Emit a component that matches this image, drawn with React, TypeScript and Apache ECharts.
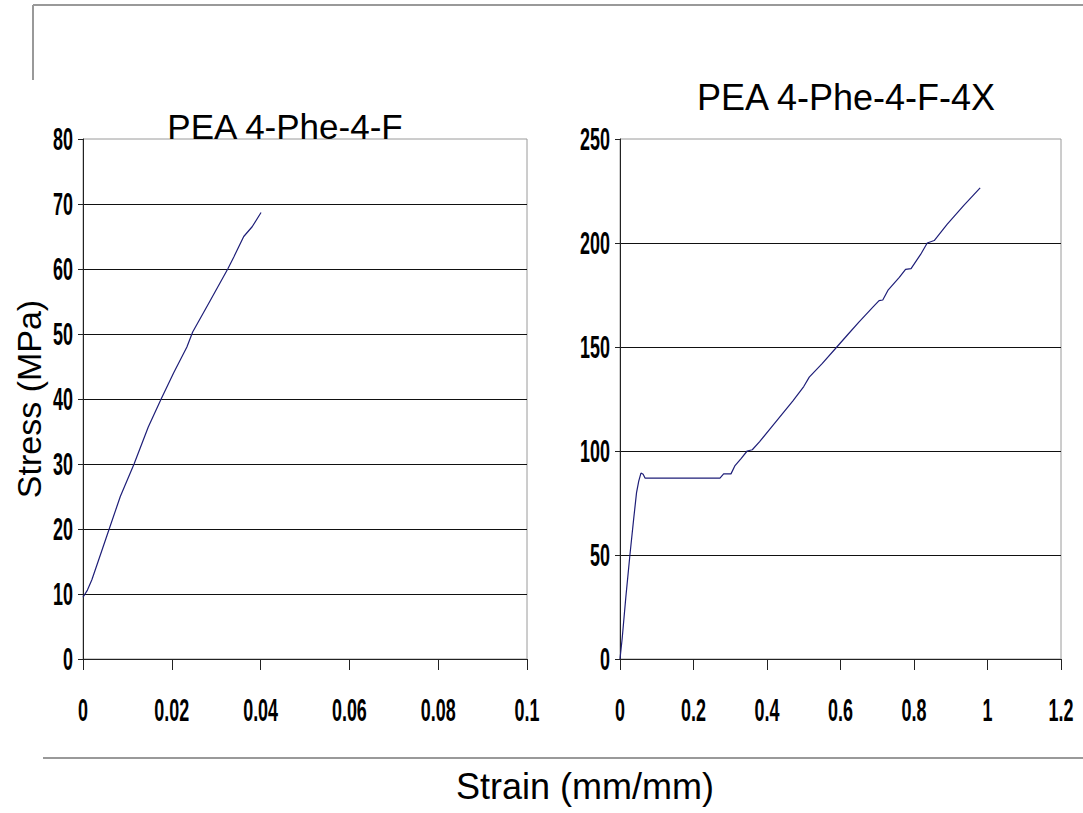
import React, { useEffect, useRef } from "react";
import * as echarts from "echarts";

const leftTitle = "PEA 4-Phe-4-F";
const rightTitle = "PEA 4-Phe-4-F-4X";
const yName = "Stress (MPa)";
const xName = "Strain (mm/mm)";

const leftStrain = [0, 0.001, 0.002, 0.0035, 0.0059, 0.0084, 0.0115, 0.0147, 0.0176, 0.0204, 0.0234, 0.0247, 0.0287, 0.0326, 0.034, 0.0362, 0.0381, 0.0401];
const leftStress = [9.5, 10.6, 12.2, 15.2, 20, 25, 30, 35.7, 40, 44, 48, 50.3, 55.2, 60, 61.9, 65, 66.5, 68.7];

const rightStrain = [0, 0.006, 0.016, 0.027, 0.037, 0.045, 0.051, 0.057, 0.063, 0.068, 0.12, 0.2, 0.272, 0.282, 0.302, 0.313, 0.33, 0.346, 0.36, 0.38, 0.41, 0.44, 0.47, 0.5, 0.515, 0.55, 0.59, 0.62, 0.65, 0.69, 0.705, 0.715, 0.73, 0.76, 0.777, 0.792, 0.818, 0.836, 0.855, 0.89, 0.935, 0.98];
const rightStress = [0, 10, 30, 50, 67, 80, 85.5, 89.4, 88.8, 87, 87, 87, 87, 89, 89, 93, 96.5, 100, 100.6, 104.5, 111, 117.5, 124, 131, 135.5, 142, 150, 156, 162, 169.5, 172.3, 172.6, 177.5, 183.5, 187.3, 187.7, 194.5, 200, 201.2, 209, 218, 226.5];

const leftXTicks = [0, 0.02, 0.04, 0.06, 0.08, 0.1];
const leftXTickLabels = ["0", "0.02", "0.04", "0.06", "0.08", "0.1"];
const leftYTicks = [0, 10, 20, 30, 40, 50, 60, 70, 80];
const rightXTicks = [0, 0.2, 0.4, 0.6, 0.8, 1, 1.2];
const rightXTickLabels = ["0", "0.2", "0.4", "0.6", "0.8", "1", "1.2"];
const rightYTicks = [0, 50, 100, 150, 200, 250];

const textFont = "'Liberation Sans', Arial, sans-serif";
const numStyle = { fontFamily: textFont, fontWeight: "bold", fontSize: 32, fill: "#000" };
const numScale = 0.56;

function xAxis(gridIndex: number, ticks: number[]) {
  return {
    type: "value",
    gridIndex,
    min: ticks[0],
    max: ticks[ticks.length - 1],
    interval: ticks[1] - ticks[0],
    axisLine: { show: true, lineStyle: { color: "#222", width: 1 } },
    axisTick: { show: true, length: 11, lineStyle: { color: "#222" } },
    axisLabel: { show: false },
    splitLine: { show: false },
  };
}

function yAxis(gridIndex: number, ticks: number[], name?: string) {
  return {
    type: "value",
    gridIndex,
    min: ticks[0],
    max: ticks[ticks.length - 1],
    interval: ticks[1] - ticks[0],
    name,
    nameLocation: "middle",
    nameGap: 37,
    nameTextStyle: { fontFamily: textFont, fontSize: 34, color: "#000" },
    axisLine: { show: true, lineStyle: { color: "#222", width: 1 } },
    axisTick: { show: true, length: 5, lineStyle: { color: "#222" } },
    axisLabel: { show: false },
    splitLine: { show: true, showMaxLine: false, showMinLine: false, lineStyle: { color: "#111", width: 1 } },
  };
}

export default function App() {
  const ref = useRef<HTMLDivElement>(null);
  useEffect(() => {
    if (!ref.current) return;
    const chart = echarts.init(ref.current, undefined, { renderer: "svg" });
    const lineColor = "#1e1e78";
    chart.setOption({
      animation: false,
      backgroundColor: "#fff",
      grid: [
        { left: 83, top: 139, width: 444, height: 520, show: true, borderColor: "#9a9a9a", borderWidth: 1, backgroundColor: "transparent", containLabel: false, outerBoundsMode: "none" },
        { left: 620, top: 139, width: 441, height: 520, show: true, borderColor: "#9a9a9a", borderWidth: 1, backgroundColor: "transparent", containLabel: false, outerBoundsMode: "none" },
      ],
      xAxis: [xAxis(0, leftXTicks), xAxis(1, rightXTicks)],
      yAxis: [yAxis(0, leftYTicks, yName), yAxis(1, rightYTicks)],
      series: [
        {
          type: "line",
          xAxisIndex: 0,
          yAxisIndex: 0,
          showSymbol: false,
          data: leftStrain.map((x, i) => [x, leftStress[i]]),
          lineStyle: { color: lineColor, width: 1.2 },
          itemStyle: { color: lineColor },
        },
        {
          type: "line",
          xAxisIndex: 1,
          yAxisIndex: 1,
          showSymbol: false,
          data: rightStrain.map((x, i) => [x, rightStress[i]]),
          lineStyle: { color: lineColor, width: 1.2 },
          itemStyle: { color: lineColor },
        },
      ],
    });

    const labels: any[] = [];
    const addX = (axisIndex: number, ticks: number[], texts: string[]) => {
      ticks.forEach((v, i) => {
        const px = chart.convertToPixel({ xAxisIndex: axisIndex }, v) as number;
        labels.push({
          type: "text",
          x: px,
          y: 710,
          scaleX: numScale,
          style: { ...numStyle, text: texts[i], align: "center", verticalAlign: "middle" },
        });
      });
    };
    const addY = (axisIndex: number, ticks: number[], axisX: number) => {
      ticks.forEach((v) => {
        const py = chart.convertToPixel({ yAxisIndex: axisIndex }, v) as number;
        labels.push({
          type: "text",
          x: axisX - 10,
          y: py,
          scaleX: numScale,
          style: { ...numStyle, text: String(v), align: "right", verticalAlign: "middle" },
        });
      });
    };
    addX(0, leftXTicks, leftXTickLabels);
    addX(1, rightXTicks, rightXTickLabels);
    addY(0, leftYTicks, 83);
    addY(1, rightYTicks, 620);

    chart.setOption({
      graphic: [
        { type: "line", shape: { x1: 33, y1: 5, x2: 1083, y2: 5 }, style: { stroke: "#999", lineWidth: 2 } },
        { type: "line", shape: { x1: 33, y1: 5, x2: 33, y2: 80 }, style: { stroke: "#999", lineWidth: 2 } },
        { type: "line", shape: { x1: 43, y1: 758, x2: 1083, y2: 758 }, style: { stroke: "#999", lineWidth: 2 } },
        {
          type: "text",
          x: 285,
          y: 126,
          style: { text: leftTitle, fontFamily: textFont, fontSize: 35, fill: "#000", align: "center", verticalAlign: "middle" },
        },
        {
          type: "text",
          x: 846,
          y: 97,
          style: { text: rightTitle, fontFamily: textFont, fontSize: 36, fill: "#000", align: "center", verticalAlign: "middle" },
        },
        {
          type: "text",
          x: 585,
          y: 786,
          style: { text: xName, fontFamily: textFont, fontSize: 36, fill: "#000", align: "center", verticalAlign: "middle" },
        },
        ...labels,
      ],
    });
    return () => chart.dispose();
  }, []);
  return <div ref={ref} style={{ position: "fixed", left: 0, top: 0, width: 1083, height: 813 }} />;
}
